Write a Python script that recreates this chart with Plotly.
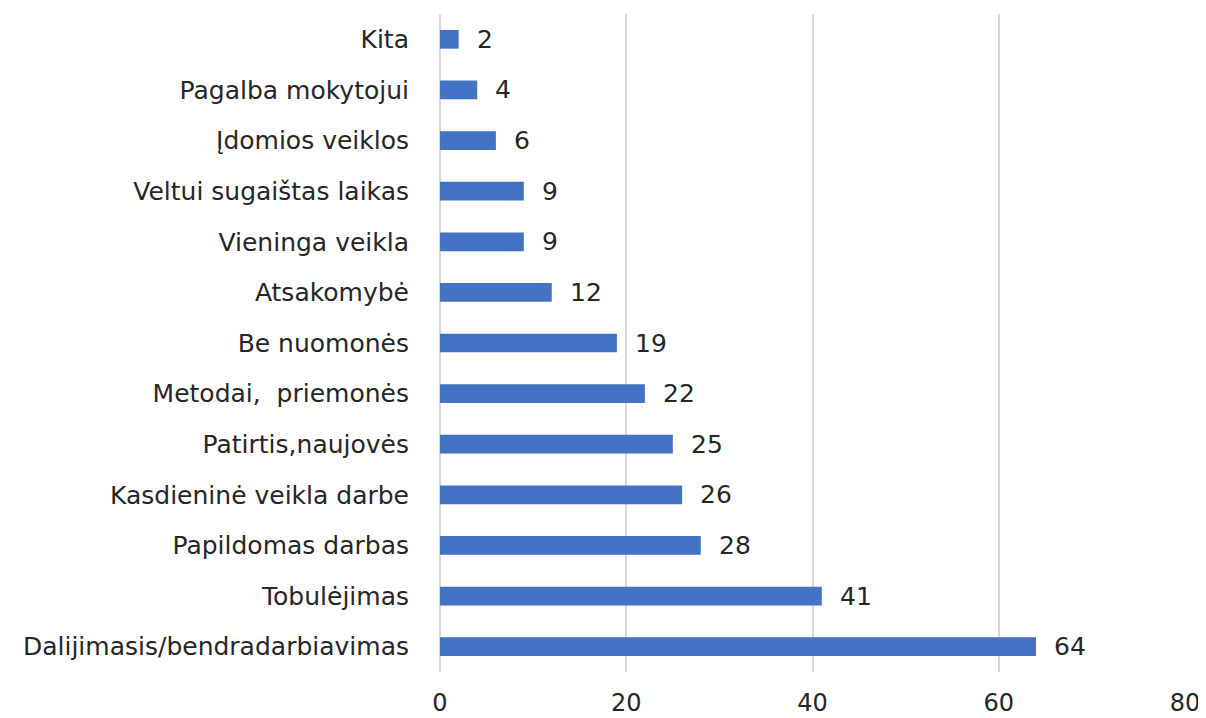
import plotly.graph_objects as go

categories = ["Dalijimasis/bendradarbiavimas", "Tobulėjimas", "Papildomas darbas",
              "Kasdieninė veikla darbe", "Patirtis,naujovės", "Metodai,  priemonės",
              "Be nuomonės", "Atsakomybė", "Vieninga veikla", "Veltui sugaištas laikas",
              "Įdomios veiklos", "Pagalba mokytojui", "Kita"]
values = [64, 41, 28, 26, 25, 22, 19, 12, 9, 9, 6, 4, 2]
x_ticks = [0, 20, 40, 60, 80]

FONT = "DejaVu Sans"
TXT = "#262626"
FS = 25

fig = go.Figure()
fig.add_trace(go.Bar(
    x=values, y=categories, orientation="h",
    marker=dict(color="#4472C4", line=dict(width=0)),
    width=0.37,
))
for c, v in zip(categories, values):
    fig.add_annotation(x=v, y=c, text=str(v), showarrow=False, xanchor="left",
                       xshift=16, font=dict(family=FONT, size=FS, color=TXT))

fig.update_layout(
    width=1206, height=718,
    margin=dict(l=432, r=29, t=6, b=54),
    paper_bgcolor="white", plot_bgcolor="white",
    showlegend=False,
    font=dict(family=FONT, size=FS, color=TXT),
    xaxis=dict(range=[0, 80], tickvals=x_ticks, showgrid=True, gridcolor="#d9d9d9",
               gridwidth=2, zeroline=True, zerolinecolor="#d9d9d9", zerolinewidth=2,
               ticks="outside", ticklen=9, tickcolor="rgba(0,0,0,0)",
               tickfont=dict(size=24),
               showline=False, fixedrange=True, automargin=False),
    yaxis=dict(categoryorder="array", categoryarray=categories, showgrid=False,
               ticks="outside", ticklen=25, tickcolor="rgba(0,0,0,0)",
               showline=False, range=[-0.5, 12.5], automargin=False),
)
fig.write_html("out.html")
